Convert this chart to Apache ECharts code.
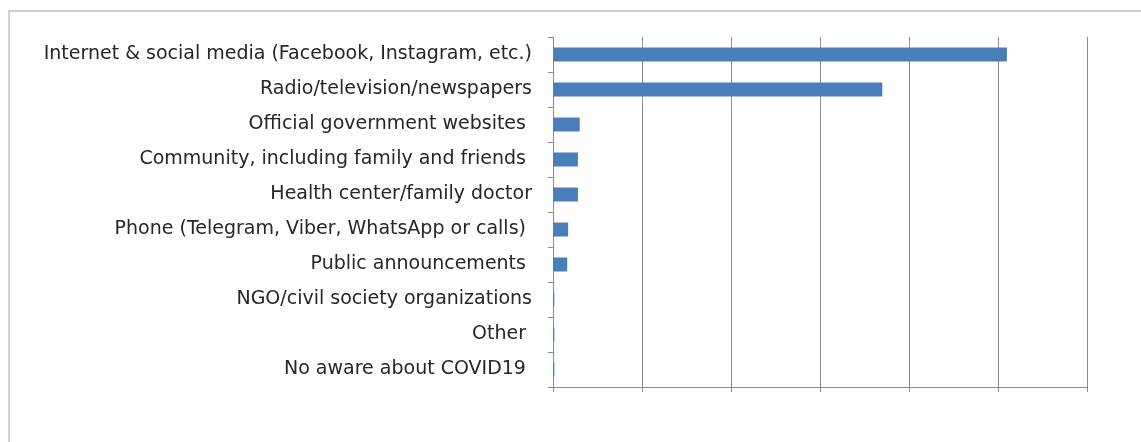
<!DOCTYPE html>
<html>
<head>
<meta charset="utf-8">
<script src="https://cdn.jsdelivr.net/npm/echarts@6/dist/echarts.min.js"></script>
<style>
  html, body { margin: 0; padding: 0; background: #fff; }
  #frame { position: absolute; left: 8px; top: 10px; width: 1140px; height: 440px; border: 2px solid #d0d0d0; box-sizing: border-box; }
  #chart { position: absolute; left: 0; top: 0; width: 1141px; height: 442px; }
</style>
</head>
<body>
<div id="frame"></div>
<div id="chart"></div>
<script>
// sources of COVID-19 information (share of respondents, %)
const categories = [
  'Internet & social media (Facebook, Instagram, etc.)',
  'Radio/television/newspapers',
  'Official government websites ',
  'Community, including family and friends ',
  'Health center/family doctor',
  'Phone (Telegram, Viber, WhatsApp or calls) ',
  'Public announcements ',
  'NGO/civil society organizations',
  'Other ',
  'No aware about COVID19 '
]
const values = [51.0, 37.0, 3.0, 2.8, 2.8, 1.7, 1.6, 0.15, 0.15, 0.15]

const chart = echarts.init(document.getElementById('chart'))
chart.setOption({
  animation: false,
  grid: { left: 553, right: 54, top: 37, bottom: 55 },
  xAxis: {
    type: 'value',
    min: 0,
    max: 60,
    interval: 10,
    axisLabel: { show: false },
    axisLine: { show: true, lineStyle: { color: '#8c8c8c', width: 1 } },
    axisTick: { show: true, length: 5, lineStyle: { color: '#8c8c8c' } },
    splitLine: { show: true, lineStyle: { color: '#8c8c8c', width: 1 } }
  },
  yAxis: {
    type: 'category',
    inverse: true,
    data: categories,
    axisLine: { show: true, lineStyle: { color: '#8c8c8c', width: 1 } },
    axisTick: { show: true, length: 5, lineStyle: { color: '#8c8c8c' } },
    axisLabel: {
      color: '#262626',
      fontFamily: 'DejaVu Sans',
      fontSize: 19,
      margin: 21
    }
  },
  series: [{
    type: 'bar',
    data: values,
    barWidth: 14,
    itemStyle: { color: '#4a7ebb' }
  }]
})
</script>
</body>
</html>
